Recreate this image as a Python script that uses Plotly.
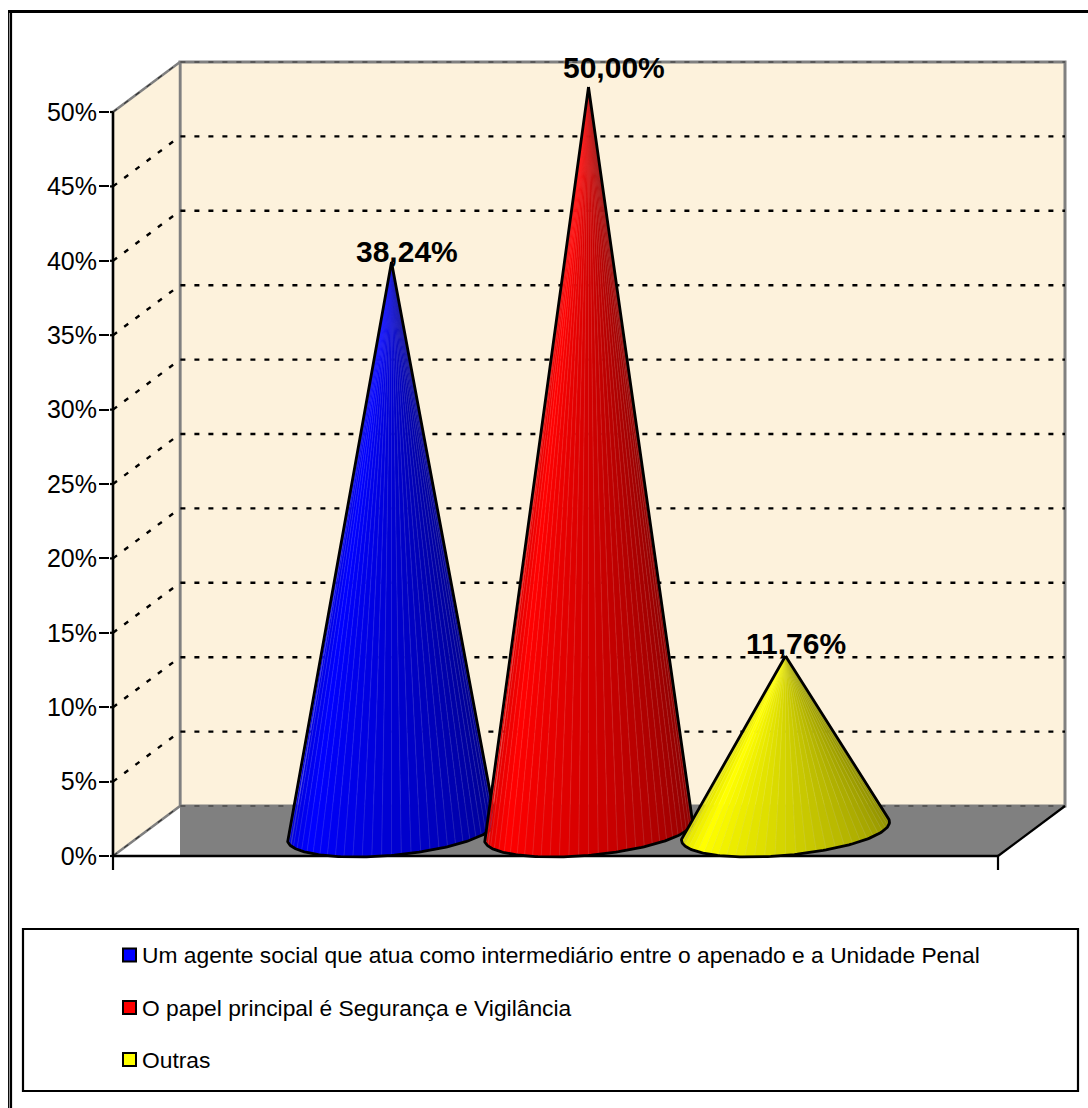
import numpy as np
import plotly.graph_objects as go

# ---------- data ----------
categories = ["Um agente social que atua como intermediário entre o apenado e a Unidade Penal",
              "O papel principal é Segurança e Vigilância",
              "Outras"]
values = [38.24, 50.00, 11.76]
colors = [(0, 0, 255), (255, 0, 0), (255, 255, 0)]
y_ticks = [0, 5, 10, 15, 20, 25, 30, 35, 40, 45, 50]
y_tick_labels = ["0%", "5%", "10%", "15%", "20%", "25%", "30%", "35%", "40%", "45%", "50%"]
data_labels = ["38,24%", "50,00%", "11,76%"]

# ---------- layout constants (pixels of the page) ----------
W, H = 1088, 1108
AX_L, AX_R, AX_B, AX_T = 113, 998, 856, 112
FONT = "Liberation Sans, Arial, sans-serif"
PX_Y = (AX_B - AX_T) / 50.0       # px per percentage point
X_UNIT = 197.0                    # px per series slot
X_MAX = (AX_R - AX_L) / X_UNIT
DX, DY = 67 / X_UNIT, 50 / PX_Y   # oblique depth of the chart box
FIRST_SLOT = (391.5 - AX_L) / X_UNIT
BASE_LIFT = 25 / PX_Y             # cone base centre above the front floor edge
CONE_A, CONE_VX, CONE_VY = 97.6 / X_UNIT, 36 / X_UNIT, 26 / PX_Y
N_SLICES = 34
LABEL_NUDGE = [(15, 10), (25, 19), (10, 13)]  # px from apex to label centre

# plot rectangle: wide enough to hold the oblique box, ticks and cone outlines
PAD_L, PAD_B, PAD_T, PAD_R = 3, 16, 4, 4
DOM_L, DOM_R = AX_L - PAD_L, AX_R + 67 + PAD_R
DOM_B, DOM_T = AX_B + PAD_B, AX_T - 50 - PAD_T


def xp(px):
    return px / W


def yp(py):
    return 1 - py / H


fig = go.Figure()


def poly(x, y, fill=None, line=None, width=0, dash=None):
    fig.add_trace(go.Scatter(
        x=x, y=y, mode="lines", hoverinfo="skip", showlegend=False,
        fill="toself" if fill else None, fillcolor=fill,
        line=dict(color=line or "rgba(0,0,0,0)", width=width, dash=dash)))


WALL = "#FDF2DC"
GREY = "#808080"
BLACK = "#000000"

# back wall, side wall, floor
poly([DX, X_MAX + DX, X_MAX + DX, DX, DX], [DY, DY, 50 + DY, 50 + DY, DY], WALL, GREY, 3)
poly([0, DX, DX, 0, 0], [0, DY, 50 + DY, 50, 0], WALL, GREY, 2.5)
poly([DX, X_MAX + DX, X_MAX, DX, DX], [DY, DY, 0, 0, DY], GREY)

# dotted gridlines
for t in y_ticks:
    major = 0 < t < 50
    poly([0, DX, X_MAX + DX], [t, t + DY, t + DY], None, BLACK if major else "#303030",
         2.4 if major else 1.2, "5px,9px")

# axis lines, right floor edge, tick stubs reaching the axis line
poly([0, 0], [0, 50], None, BLACK, 2.4)
poly([0, X_MAX], [0, 0], None, BLACK, 2.6)
poly([X_MAX, X_MAX + DX], [0, DY], None, BLACK, 2.2)
for xt in (0, X_MAX):
    poly([xt, xt], [0, -14 / PX_Y], None, BLACK, 2.2)
for t in y_ticks:
    poly([-PAD_L / X_UNIT, 0], [t, t], None, BLACK, 2.2)

# cones
for i, (v, col) in enumerate(zip(values, colors)):
    cx = FIRST_SLOT + i
    cy = BASE_LIFT
    ax, ay = cx, v + BASE_LIFT
    t = np.linspace(0, 2 * np.pi, 1441)
    ex = cx + CONE_A * np.cos(t) + CONE_VX * np.sin(t)
    ey = cy + CONE_VY * np.sin(t)
    ang = np.arctan2((ey - ay) * PX_Y, (ex - ax) * X_UNIT)
    ang = np.where(ang > np.pi / 2, ang - 2 * np.pi, ang)
    t_right = t[np.argmax(ang)]
    t_left = t[np.argmin(ang)]
    if t_left > t_right:
        t_right += 2 * np.pi
    arc = np.linspace(t_left, t_right, N_SLICES + 1)
    for k in range(N_SLICES):
        f = (k + 0.5) / N_SLICES
        b = np.interp(f, [0, 0.07, 0.22, 1.0], [0.74, 0.86, 1.0, 0.52])
        rgb = [int(round(c * b)) for c in col]
        seam = [int(round(c * b * 0.86 + 255 * 0.14)) for c in col]
        sub = np.linspace(arc[k], arc[k + 1], 5)
        sx = cx + CONE_A * np.cos(sub) + CONE_VX * np.sin(sub)
        sy = cy + CONE_VY * np.sin(sub)
        poly([ax, *sx, ax], [ay, *sy, ay], f"rgb({rgb[0]},{rgb[1]},{rgb[2]})",
             f"rgb({seam[0]},{seam[1]},{seam[2]})", 0.6)
    fine = np.linspace(t_left, t_right, 121)
    ox = cx + CONE_A * np.cos(fine) + CONE_VX * np.sin(fine)
    oy = cy + CONE_VY * np.sin(fine)
    poly([ax, *ox, ax], [ay, *oy, ay], None, BLACK, 2.8)

annotations = []
for i, (v, lab) in enumerate(zip(values, data_labels)):
    nx, ny = LABEL_NUDGE[i]
    annotations.append(dict(
        x=FIRST_SLOT + i, y=v + BASE_LIFT, xref="x", yref="y", text=f"<b>{lab}</b>",
        showarrow=False, xanchor="center", yanchor="middle", xshift=nx, yshift=ny,
        font=dict(family=FONT, size=30, color=BLACK)))

# legend box
LEG_ROWS = [955, 1007.5, 1059.5]
shapes = [
    dict(type="rect", xref="paper", yref="paper", x0=xp(23), x1=xp(1078), y0=yp(929), y1=yp(1091),
         line=dict(color=BLACK, width=2.2), fillcolor="rgba(0,0,0,0)"),
    # page frame
    dict(type="line", xref="paper", yref="paper", x0=xp(8), x1=1, y0=yp(11.5), y1=yp(11.5),
         line=dict(color=BLACK, width=3)),
    dict(type="line", xref="paper", yref="paper", x0=xp(8.7), x1=xp(8.7), y0=yp(11), y1=0,
         line=dict(color=BLACK, width=1.3)),
    dict(type="line", xref="paper", yref="paper", x0=xp(11), x1=xp(11), y0=yp(11), y1=0,
         line=dict(color=BLACK, width=2.2)),
]
for row, cat, col in zip(LEG_ROWS, categories, colors):
    shapes.append(dict(type="rect", xref="paper", yref="paper",
                       x0=xp(123), x1=xp(136), y0=yp(row - 6.5), y1=yp(row + 6.5),
                       line=dict(color=BLACK, width=2),
                       fillcolor=f"rgb({col[0]},{col[1]},{col[2]})"))
    annotations.append(dict(
        x=xp(140), y=yp(row), xref="paper", yref="paper", text=cat, showarrow=False,
        xanchor="left", yanchor="middle",
        font=dict(family=FONT, size=22.8, color=BLACK)))

fig.update_layout(
    width=W, height=H, autosize=False, margin=dict(l=0, r=0, t=0, b=0, pad=0),
    paper_bgcolor="#FFFFFF", plot_bgcolor="rgba(0,0,0,0)", showlegend=False,
    font=dict(family=FONT, color=BLACK),
    shapes=shapes, annotations=annotations,
    xaxis=dict(domain=[xp(DOM_L), xp(DOM_R)],
               range=[-PAD_L / X_UNIT, X_MAX + DX + PAD_R / X_UNIT],
               showgrid=False, zeroline=False, showline=False, showticklabels=False, ticks=""),
    yaxis=dict(domain=[yp(DOM_B), yp(DOM_T)],
               range=[-PAD_B / PX_Y, 50 + DY + PAD_T / PX_Y],
               showgrid=False, zeroline=False, showline=False,
               tickmode="array", tickvals=y_ticks, ticktext=y_tick_labels,
               ticks="outside", ticklen=10, tickwidth=2.2, tickcolor=BLACK,
               ticklabelstandoff=-3,
               tickfont=dict(family=FONT, size=25, color=BLACK)),
)

fig.write_html("out.html", config={"displayModeBar": False},
               post_script="document.body.style.margin='0';document.documentElement.style.overflow='hidden';")
